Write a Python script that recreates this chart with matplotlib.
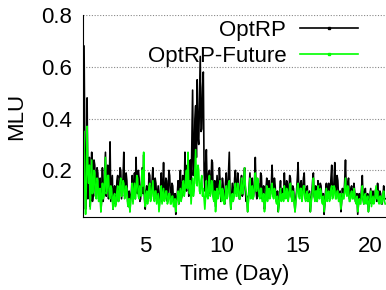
import numpy as np
import matplotlib
matplotlib.use("Agg")
import matplotlib.pyplot as plt
import matplotlib.transforms as mtransforms
from matplotlib.lines import Line2D

plt.rcParams['font.family'] = ['Liberation Sans', 'DejaVu Sans']

# MLU samples, 20 per day starting at day 1.0 (one row per day)
optrp = [
    0.68, 0.30, 0.05, 0.20, 0.48, 0.09, 0.14, 0.25, 0.06, 0.12, 0.27, 0.08, 0.11, 0.24, 0.22, 0.10, 0.13, 0.21, 0.19, 0.09,
    0.10, 0.17, 0.04, 0.09, 0.21, 0.08, 0.12, 0.19, 0.27, 0.10, 0.15, 0.22, 0.09, 0.14, 0.31, 0.08, 0.13, 0.18, 0.05, 0.11,
    0.14, 0.07, 0.09, 0.16, 0.18, 0.08, 0.11, 0.21, 0.20, 0.09, 0.13, 0.17, 0.27, 0.10, 0.12, 0.19, 0.16, 0.08, 0.06, 0.12,
    0.04, 0.10, 0.12, 0.18, 0.08, 0.13, 0.19, 0.09, 0.25, 0.12, 0.11, 0.20, 0.17, 0.08, 0.09, 0.15, 0.21, 0.11, 0.26, 0.09,
    0.05, 0.12, 0.14, 0.08, 0.10, 0.19, 0.18, 0.09, 0.12, 0.16, 0.21, 0.10, 0.09, 0.17, 0.15, 0.08, 0.11, 0.14, 0.05, 0.09,
    0.13, 0.19, 0.08, 0.12, 0.23, 0.09, 0.10, 0.17, 0.16, 0.08, 0.12, 0.20, 0.18, 0.10, 0.09, 0.15, 0.14, 0.08, 0.07, 0.11,
    0.03, 0.09, 0.11, 0.16, 0.07, 0.12, 0.20, 0.09, 0.10, 0.18, 0.16, 0.11, 0.27, 0.13, 0.12, 0.22, 0.19, 0.10, 0.14, 0.24,
    0.10, 0.30, 0.51, 0.18, 0.22, 0.40, 0.45, 0.25, 0.55, 0.33, 0.30, 0.48, 0.64, 0.35, 0.36, 0.52, 0.58, 0.20, 0.12, 0.22,
    0.28, 0.14, 0.10, 0.19, 0.20, 0.11, 0.14, 0.24, 0.23, 0.10, 0.09, 0.16, 0.06, 0.12, 0.18, 0.10, 0.11, 0.21, 0.16, 0.08,
    0.09, 0.17, 0.14, 0.08, 0.07, 0.15, 0.19, 0.10, 0.12, 0.20, 0.27, 0.11, 0.05, 0.10, 0.15, 0.09, 0.10, 0.17, 0.20, 0.11,
    0.12, 0.19, 0.16, 0.09, 0.09, 0.15, 0.18, 0.10, 0.11, 0.17, 0.21, 0.12, 0.08, 0.10, 0.04, 0.09, 0.14, 0.19, 0.10, 0.13,
    0.17, 0.09, 0.11, 0.16, 0.25, 0.12, 0.09, 0.14, 0.15, 0.10, 0.12, 0.19, 0.18, 0.09, 0.10, 0.14, 0.05, 0.08, 0.13, 0.17,
    0.09, 0.14, 0.16, 0.10, 0.11, 0.15, 0.22, 0.12, 0.10, 0.17, 0.14, 0.09, 0.08, 0.12, 0.04, 0.07, 0.12, 0.16, 0.09, 0.11,
    0.13, 0.09, 0.19, 0.12, 0.10, 0.16, 0.15, 0.09, 0.11, 0.18, 0.17, 0.10, 0.09, 0.14, 0.13, 0.08, 0.04, 0.09, 0.12, 0.17,
    0.23, 0.11, 0.10, 0.15, 0.16, 0.09, 0.12, 0.17, 0.19, 0.10, 0.09, 0.13, 0.14, 0.08, 0.10, 0.12, 0.04, 0.08, 0.11, 0.16,
    0.19, 0.10, 0.09, 0.14, 0.13, 0.08, 0.16, 0.11, 0.10, 0.15, 0.14, 0.09, 0.08, 0.11, 0.03, 0.07, 0.12, 0.15, 0.10, 0.13,
    0.15, 0.09, 0.11, 0.17, 0.22, 0.10, 0.10, 0.16, 0.23, 0.11, 0.12, 0.18, 0.16, 0.09, 0.09, 0.12, 0.04, 0.08, 0.13, 0.10,
    0.10, 0.16, 0.24, 0.12, 0.11, 0.15, 0.17, 0.09, 0.09, 0.13, 0.14, 0.10, 0.10, 0.15, 0.12, 0.08, 0.08, 0.11, 0.03, 0.07,
    0.11, 0.08, 0.09, 0.13, 0.18, 0.09, 0.07, 0.12, 0.13, 0.08, 0.08, 0.11, 0.04, 0.07, 0.10, 0.13, 0.07, 0.09, 0.12, 0.08,
    0.09, 0.12, 0.13, 0.08, 0.15, 0.10, 0.08, 0.12, 0.11, 0.07, 0.07, 0.10, 0.14, 0.09, 0.09,
]

optrp_future = [
    0.35, 0.12, 0.03, 0.15, 0.37, 0.20, 0.15, 0.22, 0.05, 0.14, 0.24, 0.11, 0.12, 0.20, 0.19, 0.10, 0.09, 0.17, 0.16, 0.08,
    0.08, 0.13, 0.04, 0.08, 0.15, 0.09, 0.10, 0.17, 0.25, 0.11, 0.12, 0.18, 0.18, 0.10, 0.09, 0.14, 0.13, 0.08, 0.05, 0.10,
    0.11, 0.06, 0.07, 0.12, 0.14, 0.08, 0.09, 0.15, 0.17, 0.10, 0.11, 0.16, 0.15, 0.09, 0.10, 0.14, 0.13, 0.07, 0.06, 0.09,
    0.04, 0.08, 0.10, 0.15, 0.07, 0.11, 0.15, 0.09, 0.12, 0.18, 0.17, 0.10, 0.09, 0.14, 0.13, 0.10, 0.20, 0.14, 0.27, 0.12,
    0.06, 0.10, 0.12, 0.07, 0.09, 0.14, 0.15, 0.08, 0.10, 0.13, 0.16, 0.09, 0.08, 0.12, 0.12, 0.07, 0.09, 0.11, 0.04, 0.07,
    0.10, 0.14, 0.07, 0.10, 0.13, 0.08, 0.09, 0.12, 0.12, 0.07, 0.08, 0.11, 0.11, 0.07, 0.07, 0.10, 0.10, 0.06, 0.06, 0.09,
    0.04, 0.08, 0.09, 0.12, 0.07, 0.10, 0.13, 0.08, 0.10, 0.15, 0.16, 0.10, 0.12, 0.17, 0.20, 0.13, 0.27, 0.14, 0.11, 0.16,
    0.07, 0.12, 0.17, 0.10, 0.12, 0.20, 0.28, 0.15, 0.14, 0.22, 0.20, 0.12, 0.11, 0.16, 0.18, 0.10, 0.13, 0.09, 0.05, 0.10,
    0.16, 0.10, 0.09, 0.14, 0.18, 0.10, 0.11, 0.16, 0.15, 0.09, 0.08, 0.12, 0.04, 0.08, 0.13, 0.09, 0.10, 0.14, 0.16, 0.10,
    0.08, 0.13, 0.12, 0.07, 0.07, 0.11, 0.14, 0.09, 0.10, 0.15, 0.16, 0.10, 0.05, 0.08, 0.11, 0.08, 0.09, 0.13, 0.15, 0.10,
    0.10, 0.15, 0.14, 0.09, 0.09, 0.13, 0.17, 0.11, 0.11, 0.16, 0.21, 0.14, 0.12, 0.09, 0.04, 0.08, 0.13, 0.17, 0.09, 0.12,
    0.14, 0.09, 0.10, 0.15, 0.19, 0.12, 0.12, 0.17, 0.15, 0.10, 0.09, 0.13, 0.13, 0.08, 0.08, 0.11, 0.04, 0.07, 0.11, 0.14,
    0.08, 0.12, 0.13, 0.09, 0.10, 0.14, 0.15, 0.10, 0.09, 0.13, 0.12, 0.08, 0.07, 0.10, 0.04, 0.07, 0.10, 0.13, 0.08, 0.10,
    0.11, 0.08, 0.14, 0.10, 0.09, 0.13, 0.12, 0.08, 0.10, 0.14, 0.15, 0.10, 0.08, 0.12, 0.11, 0.07, 0.04, 0.08, 0.10, 0.14,
    0.15, 0.10, 0.09, 0.13, 0.13, 0.08, 0.10, 0.14, 0.14, 0.09, 0.08, 0.11, 0.12, 0.08, 0.09, 0.11, 0.04, 0.07, 0.10, 0.13,
    0.17, 0.10, 0.08, 0.12, 0.12, 0.08, 0.14, 0.10, 0.09, 0.13, 0.12, 0.08, 0.07, 0.10, 0.04, 0.07, 0.10, 0.13, 0.08, 0.11,
    0.12, 0.08, 0.09, 0.13, 0.14, 0.09, 0.10, 0.14, 0.13, 0.09, 0.09, 0.12, 0.12, 0.08, 0.08, 0.11, 0.05, 0.08, 0.11, 0.09,
    0.09, 0.13, 0.17, 0.11, 0.10, 0.14, 0.13, 0.08, 0.08, 0.11, 0.12, 0.09, 0.09, 0.13, 0.11, 0.08, 0.07, 0.10, 0.04, 0.07,
    0.09, 0.07, 0.07, 0.11, 0.14, 0.09, 0.07, 0.10, 0.11, 0.07, 0.08, 0.10, 0.04, 0.07, 0.09, 0.12, 0.06, 0.08, 0.10, 0.07,
    0.08, 0.11, 0.14, 0.09, 0.12, 0.08, 0.07, 0.10, 0.10, 0.07, 0.08, 0.11, 0.12, 0.08, 0.07,
]

first_day = 1.0
samples_per_day = 20
xticks = [5, 10, 15, 20]
yticks = [0.2, 0.4, 0.6, 0.8]

days = first_day + np.arange(len(optrp)) / samples_per_day

fig = plt.figure(figsize=(3.86, 2.90), dpi=100)
ax = fig.add_axes([0.215, 0.252, 0.785, 0.696])

ax.plot(days, optrp, color='black', lw=1.2)
ax.plot(days, optrp_future, color='#00ff00', lw=1.2)

ax.set_xlim(0.93, 20.75)
ax.set_ylim(0.02, 0.8)
ax.set_xticks(xticks)
ax.set_yticks(yticks)
ax.set_yticklabels([f"{v:.1f}" for v in yticks])
ax.tick_params(length=0, labelsize=16)
ax.tick_params(axis='x', pad=14)
ax.tick_params(axis='y', pad=8)

# pull the last x label a little left so it stays inside the picture
last = ax.get_xticklabels()[-1]
last.set_transform(last.get_transform() +
                   mtransforms.ScaledTranslation(-4 / 100, 0, fig.dpi_scale_trans))

ax.spines['top'].set_visible(False)
ax.spines['right'].set_visible(False)
ax.yaxis.grid(True, linestyle=(0, (1, 1.5)), color='#888888', lw=0.8)

ax.set_xlabel("Time (Day)", fontsize=16, labelpad=5)
ax.set_ylabel("MLU", fontsize=16, labelpad=10)

handles = [Line2D([], [], color='black', lw=1.2, marker='s', ms=1.5),
           Line2D([], [], color='#00ff00', lw=1.2, marker='s', ms=1.5)]
ax.legend(handles, ["OptRP", "OptRP-Future"], loc='upper right',
          bbox_to_anchor=(0.908, 0.975), frameon=False, markerfirst=False,
          fontsize=16, handlelength=2.6, handletextpad=0.63,
          labelspacing=0.2, borderpad=0, borderaxespad=0, numpoints=1)

fig.savefig("out.png", dpi=100)
